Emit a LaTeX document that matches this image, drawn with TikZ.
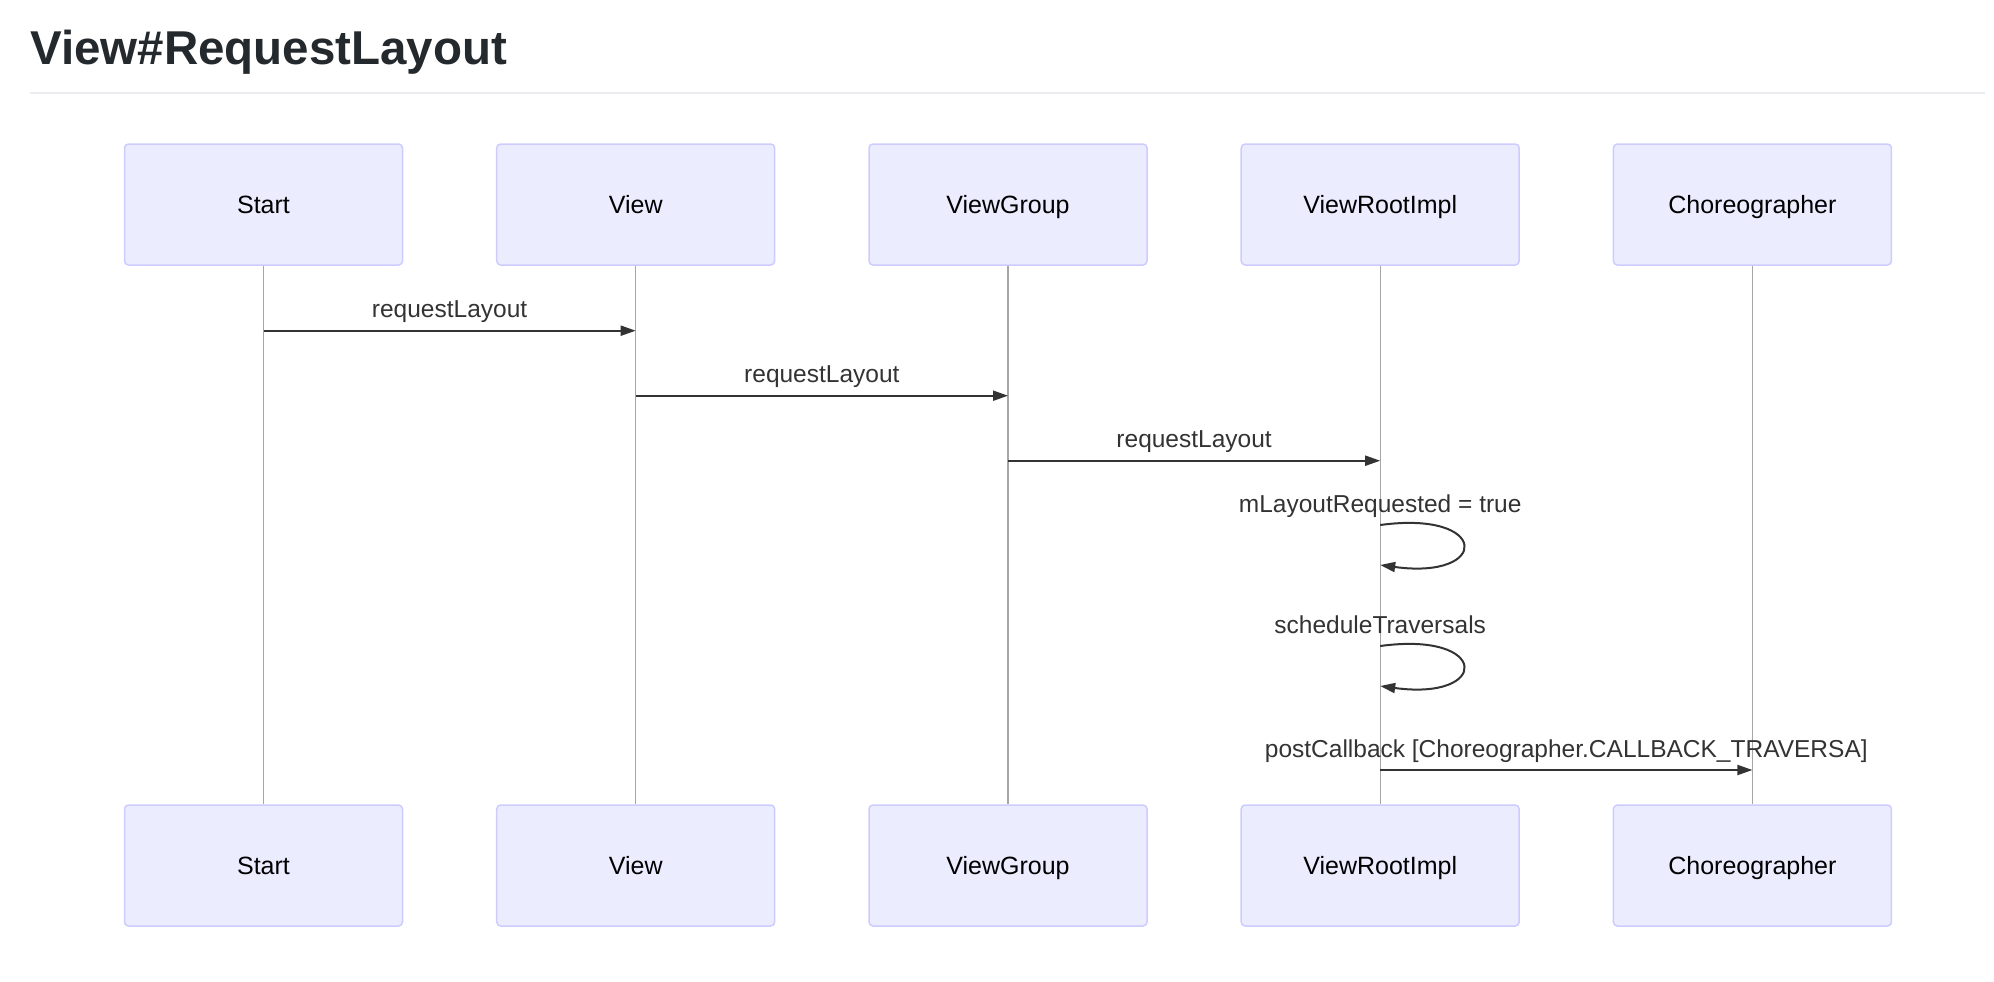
\documentclass[tikz,border=0pt]{standalone}
\usepackage{fontspec}
\setmainfont{Liberation Sans}
\usepackage{tikz}
\usetikzlibrary{arrows.meta}

\definecolor{actorfill}{HTML}{ECECFF}
\definecolor{actorline}{HTML}{CCCCFF}
\definecolor{lifeline}{HTML}{A6A6A6}
\definecolor{msgline}{HTML}{333333}
\definecolor{titlecol}{HTML}{24292E}
\definecolor{rulecol}{HTML}{EAECEF}

\tikzset{
actor/.style={rectangle, rounded corners=4pt, draw=actorline, fill=actorfill, line width=1.5pt,
  minimum width=278pt, minimum height=121pt, inner sep=0pt, text height=18pt, text depth=0pt,
  font=\fontsize{25pt}{30pt}\selectfont},
msg/.style={draw=msgline, line width=2pt, -{Triangle[length=15pt,width=10pt]}},
lbl/.style={text=msgline, inner sep=0pt, anchor=base, yshift=13pt, font=\fontsize{24.5pt}{29pt}\selectfont}
}

\begin{document}
\begin{tikzpicture}[x=1pt,y=-1pt]
\useasboundingbox (0,0) rectangle (1994,982);
\node[anchor=base west, text=titlecol, inner sep=0pt, font=\fontsize{47.5pt}{56pt}\selectfont\bfseries] (title) at (30,65) {View\#RequestLayout};
\draw[rulecol, line width=2pt] (30,92.7)--(1985,92.7);
% actors
\node[actor] (startT) at (263.5,204.5) {Start};
\node[actor] (viewT) at (635.7,204.5) {View};
\node[actor] (groupT) at (1008,204.5) {ViewGroup};
\node[actor] (rootT) at (1380.2,204.5) {ViewRootImpl};
\node[actor] (choreoT) at (1752.4,204.5) {Choreographer};
\node[actor] (startB) at (263.5,865.5) {Start};
\node[actor] (viewB) at (635.7,865.5) {View};
\node[actor] (groupB) at (1008,865.5) {ViewGroup};
\node[actor] (rootB) at (1380.2,865.5) {ViewRootImpl};
\node[actor] (choreoB) at (1752.4,865.5) {Choreographer};
% lifelines
\draw[lifeline, line width=1.2pt] (startT)--(startB);
\draw[lifeline, line width=1.2pt] (viewT)--(viewB);
\draw[lifeline, line width=1.2pt] (groupT)--(groupB);
\draw[lifeline, line width=1.2pt] (rootT)--(rootB);
\draw[lifeline, line width=1.2pt] (choreoT)--(choreoB);
% message rows
\coordinate (m1) at (0,330.7);
\coordinate (m2) at (0,395.7);
\coordinate (m3) at (0,460.7);
\coordinate (l1) at (0,525);
\coordinate (l1e) at (0,565);
\coordinate (l2) at (0,646);
\coordinate (l2e) at (0,686);
\coordinate (m4) at (0,770);
\draw[msg] (startT |- m1)--node[lbl, midway]{requestLayout}(viewT |- m1);
\draw[msg] (viewT |- m2)--node[lbl, midway]{requestLayout}(groupT |- m2);
\draw[msg] (groupT |- m3)--node[lbl, midway]{requestLayout}(rootT |- m3);
\draw[msg] (rootT |- l1) node[lbl]{mLayoutRequested = true}
  .. controls +(110,-15) and +(110,15) .. (rootT |- l1e);
\draw[msg] (rootT |- l2) node[lbl]{scheduleTraversals}
  .. controls +(110,-15) and +(110,15) .. (rootT |- l2e);
\draw[msg] (rootT |- m4)--node[lbl, midway]{postCallback [Choreographer.CALLBACK\_TRAVERSA]}(choreoT |- m4);
\end{tikzpicture}
\end{document}
